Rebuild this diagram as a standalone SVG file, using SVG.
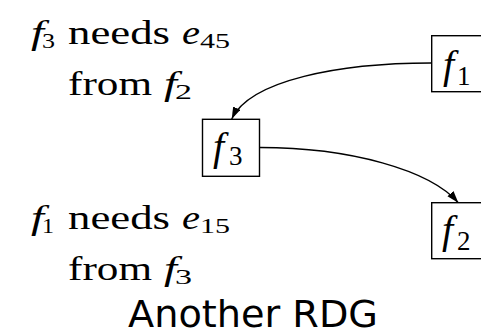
<svg xmlns="http://www.w3.org/2000/svg" width="481" height="335" viewBox="0 0 481 335">
<defs>
<style>
.t{font-family:"Liberation Serif","Times New Roman",serif;font-size:34px;fill:#000}
.i{font-style:italic}
.s{font-family:"Liberation Serif","Times New Roman",serif;font-size:22px;fill:#000}
.bl{font-family:"Liberation Serif","Times New Roman",serif;font-size:40px;font-style:italic;fill:#000}
.bs{font-family:"Liberation Serif","Times New Roman",serif;font-size:27px;fill:#000}
.box{fill:#fff;stroke:#000;stroke-width:1.4}
.edge{fill:none;stroke:#000;stroke-width:1.4}
.cap{font-family:"DejaVu Sans",sans-serif;font-size:38px;fill:#000}
</style>
<marker id="arr" markerUnits="userSpaceOnUse" markerWidth="14" markerHeight="10" refX="12" refY="4" orient="auto">
<path d="M0,0 L12,4 L0,8 Z" fill="#000"/>
</marker>
</defs>
<g id="notes">
<text class="t i" x="31" y="44" textLength="13" lengthAdjust="spacingAndGlyphs">f</text>
<text class="s" x="42" y="48" textLength="13" lengthAdjust="spacingAndGlyphs">3</text>
<text class="t" x="68" y="44" textLength="102" lengthAdjust="spacingAndGlyphs">needs</text>
<text class="t i" x="182" y="44" textLength="18" lengthAdjust="spacingAndGlyphs">e</text>
<text class="s" x="200" y="48" textLength="30" lengthAdjust="spacingAndGlyphs">45</text>
<text class="t" x="68" y="95" textLength="84" lengthAdjust="spacingAndGlyphs">from</text>
<text class="t i" x="164" y="95" textLength="13" lengthAdjust="spacingAndGlyphs">f</text>
<text class="s" x="175" y="99" textLength="17" lengthAdjust="spacingAndGlyphs">2</text>
<text class="t i" x="31" y="229" textLength="13" lengthAdjust="spacingAndGlyphs">f</text>
<text class="s" x="42" y="233" textLength="12" lengthAdjust="spacingAndGlyphs">1</text>
<text class="t" x="68" y="229" textLength="102" lengthAdjust="spacingAndGlyphs">needs</text>
<text class="t i" x="182" y="229" textLength="18" lengthAdjust="spacingAndGlyphs">e</text>
<text class="s" x="200" y="233" textLength="30" lengthAdjust="spacingAndGlyphs">15</text>
<text class="t" x="68" y="280" textLength="84" lengthAdjust="spacingAndGlyphs">from</text>
<text class="t i" x="164" y="280" textLength="13" lengthAdjust="spacingAndGlyphs">f</text>
<text class="s" x="175" y="284" textLength="17" lengthAdjust="spacingAndGlyphs">3</text>
</g>
<g id="connectors">
<path class="edge" d="M431,63 C340,63 250,80 231.7,119" marker-end="url(#arr)"/>
<path class="edge" d="M260,147.5 C350,147.5 430,170 458.3,202.7" marker-end="url(#arr)"/>
</g>
<g id="f1">
<rect class="box" x="431.7" y="35.7" width="60" height="56"/>
<text class="bl" x="443" y="78">f</text>
<text class="bs" x="457" y="85">1</text>
</g>
<g id="f3">
<rect class="box" x="202.5" y="119.3" width="57" height="57"/>
<text class="bl" x="213" y="160">f</text>
<text class="bs" x="229" y="165">3</text>
</g>
<g id="f2">
<rect class="box" x="431.7" y="202.7" width="60" height="56"/>
<text class="bl" x="442" y="243">f</text>
<text class="bs" x="457" y="250">2</text>
</g>
<text id="caption" class="cap" x="128" y="327" textLength="250" lengthAdjust="spacingAndGlyphs">Another RDG</text>
</svg>
